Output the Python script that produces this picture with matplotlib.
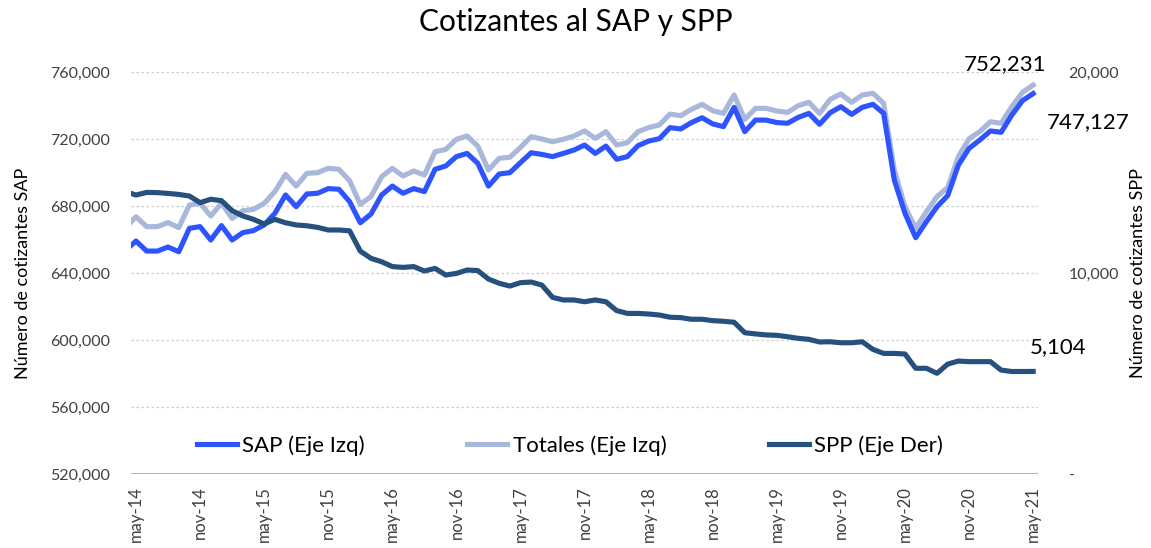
import matplotlib
matplotlib.use("Agg")
import matplotlib.pyplot as plt
from matplotlib.ticker import FuncFormatter

plt.rcParams['font.family'] = ['Lato', 'DejaVu Sans']

# monthly values, apr-14 .. may-21 (apr-14 is only partly visible at the left edge)
sap = [653400, 659100, 653100, 653100, 655500, 652700, 666700, 667700, 659700, 668300,
       659700, 664100, 665300, 668700, 675600, 686600, 679600, 687200, 687600, 690400,
       690000, 682600, 670000, 675200, 686600, 691900, 687600, 690400, 688600, 701900,
       703900, 709500, 711400, 705500, 691900, 699100, 699900, 705900, 711800, 710800,
       709500, 711400, 713400, 716400, 711400, 715800, 707900, 709500, 716000, 718800,
       720200, 726800, 726000, 729800, 732700, 729000, 727400, 738900, 724400, 731300,
       731300, 729800, 729400, 732900, 735300, 728800, 735700, 739300, 734700, 738900,
       740700, 735300, 695500, 675600, 661100, 670600, 679600, 686200, 704500, 714400,
       719400, 724800, 724000, 734300, 742900, 747127]

totales = [666900, 673600, 667700, 667700, 670100, 667100, 680600, 681600, 674000, 681600,
           672600, 677200, 678000, 681600, 688600, 698900, 691900, 699500, 699900, 702500,
           701900, 695100, 681000, 685600, 697500, 702500, 697900, 700900, 698500, 712400,
           713800, 719800, 721800, 715800, 701500, 708500, 709100, 715000, 721400, 720000,
           718400, 719800, 721800, 724800, 720400, 724400, 716400, 717800, 724400, 726800,
           728400, 734900, 733900, 737700, 740700, 736900, 735300, 746300, 731700, 738300,
           738300, 736700, 735900, 739900, 741900, 735300, 743700, 746900, 741900, 746300,
           747300, 741300, 701500, 679600, 666700, 676600, 685600, 691100, 709500, 720200,
           724400, 730300, 729400, 739300, 747900, 752231]

spp = [14050, 13880, 14010, 14000, 13960, 13910, 13830, 13500, 13670, 13600,
       13100, 12840, 12670, 12440, 12670, 12500, 12390, 12350, 12270, 12140,
       12140, 12100, 11090, 10730, 10560, 10320, 10280, 10320, 10100, 10230,
       9900, 9980, 10150, 10120, 9700, 9490, 9350, 9520, 9550, 9400,
       8790, 8660, 8660, 8570, 8660, 8570, 8130, 7990, 7990, 7960,
       7910, 7800, 7780, 7700, 7700, 7630, 7600, 7550, 7030, 6970,
       6920, 6900, 6830, 6750, 6700, 6570, 6580, 6530, 6530, 6580,
       6200, 6000, 6000, 5970, 5260, 5260, 5010, 5470, 5620, 5590,
       5590, 5590, 5170, 5100, 5100, 5104]

tick_labels = ["may-14", "nov-14", "may-15", "nov-15", "may-16", "nov-16", "may-17",
               "nov-17", "may-18", "nov-18", "may-19", "nov-19", "may-20", "nov-20", "may-21"]

c_sap = "#2E54FF"
c_tot = "#A9B7DA"
c_spp = "#26507D"
txt = "#404040"

x = list(range(-1, len(sap) - 1))

fig = plt.figure(figsize=(11.51, 5.48), dpi=100)
ax = fig.add_axes([0.1138, 0.135, 0.788, 0.7336])
ax2 = ax.twinx()

l_tot, = ax.plot(x, totales, color=c_tot, lw=3.7, solid_joinstyle='round')
l_sap, = ax.plot(x, sap, color=c_sap, lw=3.7, solid_joinstyle='round')
l_spp, = ax2.plot(x, spp, color=c_spp, lw=3.7, solid_joinstyle='round')

ax.set_xlim(-0.47, 84.45)
ax.set_ylim(520000, 760000)
ax2.set_ylim(0, 20000)

ax.set_yticks(range(520000, 760001, 40000))
ax.yaxis.set_major_formatter(FuncFormatter(lambda v, p: f"{int(v):,}"))
ax2.set_yticks([0, 10000, 20000])
ax2.yaxis.set_major_formatter(FuncFormatter(lambda v, p: "-" if v == 0 else f"{int(v):,}"))

ax.set_xticks(range(0, 85, 6))
ax.set_xticklabels(tick_labels, rotation=90, fontsize=12, color=txt)

ax.grid(axis='y', color='#CFCFCF', linestyle=(0, (2, 2)), linewidth=0.9)
ax.set_axisbelow(True)

for a in (ax, ax2):
    for s in ('top', 'left', 'right', 'bottom'):
        a.spines[s].set_visible(False)
ax.axhline(520000, color='#A6A6A6', lw=1.2, zorder=1)

ax.tick_params(axis='y', length=0, pad=15, labelsize=11.5, labelcolor=txt)
ax2.tick_params(axis='y', length=0, pad=22, labelsize=11.5, labelcolor=txt)
ax.tick_params(axis='x', length=0, pad=9)

ax.set_ylabel("Número de cotizantes SAP", fontsize=13, color='black', labelpad=14)
ax2.set_ylabel("Número de cotizantes SPP", fontsize=13, color='black', labelpad=8)

fig.suptitle("Cotizantes al SAP y SPP", fontsize=21.5, y=0.985)

ax.legend([l_sap, l_tot, l_spp], ["SAP (Eje Izq)", "Totales (Eje Izq)", "SPP (Eje Der)"],
          loc='center', bbox_to_anchor=(0.484, 0.07), ncol=3, frameon=False,
          fontsize=16, handlelength=1.8, handletextpad=0.25, columnspacing=4.6)

ax.text(81.4, 764500, "752,231", fontsize=16, ha='center', va='center', clip_on=False)
ax.text(89.1, 730200, "747,127", fontsize=16, ha='center', va='center', clip_on=False)
ax.text(86.3, 595800, "5,104", fontsize=16, ha='center', va='center', clip_on=False)

fig.savefig("out.png", dpi=100)
